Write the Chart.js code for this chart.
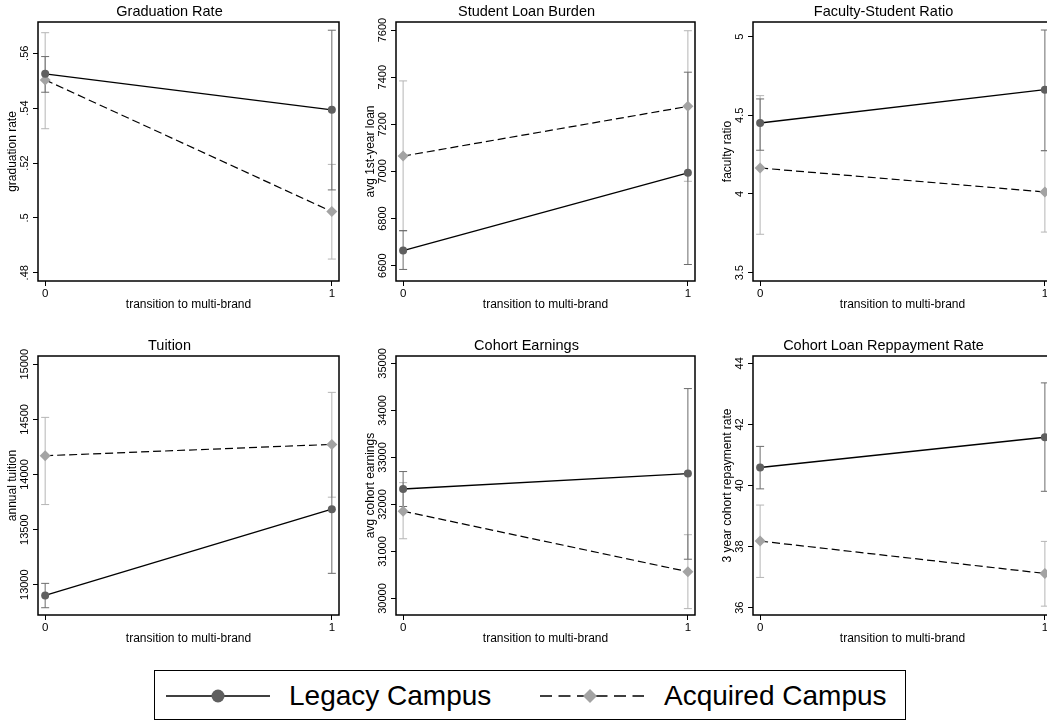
<!DOCTYPE html>
<html lang="en">
<head>
    <meta charset="UTF-8">
    <meta name="viewport" content="width=device-width, initial-scale=1.0">
    <title>Legacy vs Acquired Campus</title>
    <script src="https://cdn.jsdelivr.net/npm/chart.js"></script>
    <style>
        body {
            margin: 0;
            background: #fff;
            width: 1047px;
            height: 723px;
            overflow: hidden;
            position: relative;
            font-family: "Liberation Sans", Arial, sans-serif;
        }
        .panel { position: absolute; }
        #legend {
            position: absolute;
            left: 154px; top: 670px;
            width: 750px; height: 48px;
            border: 1.5px solid #000;
        }
        #legend svg, #legend span { position: absolute; }
        #legend span { font-size: 28px; line-height: 28px; top: 11px; color: #000; }
    </style>
</head>
<body>
    <div class="panel" style="left:0px;top:0px;width:345px;height:316px"><canvas id="c0"></canvas></div>
    <div class="panel" style="left:358px;top:0px;width:343px;height:316px"><canvas id="c1"></canvas></div>
    <div class="panel" style="left:715px;top:0px;width:343px;height:316px"><canvas id="c2"></canvas></div>
    <div class="panel" style="left:0px;top:334px;width:345px;height:316px"><canvas id="c3"></canvas></div>
    <div class="panel" style="left:358px;top:334px;width:343px;height:316px"><canvas id="c4"></canvas></div>
    <div class="panel" style="left:715px;top:334px;width:343px;height:316px"><canvas id="c5"></canvas></div>

    <!-- legend below the grid -->
    <div id="legend">
        <svg style="left:11px;top:18px" width="104" height="14">
            <line x1="0" y1="7" x2="104" y2="7" stroke="#000" stroke-width="1.5"/>
            <circle cx="52" cy="7" r="6.5" fill="#5f5f5f"/>
        </svg>
        <span id="legName0" style="left:134px"></span>
        <svg style="left:385px;top:17px" width="104" height="16">
            <line x1="0" y1="8" x2="104" y2="8" stroke="#000" stroke-width="1.5" stroke-dasharray="12,6.5"/>
            <polygon points="50,1 57,8 50,15 43,8" fill="#a3a3a3"/>
        </svg>
        <span id="legName1" style="left:509px"></span>
    </div>

    <script>
        // x axis: before / after the transition
        const xTicks = [0, 1];
        const xTitle = "transition to multi-brand";
        const seriesNames = ["Legacy Campus", "Acquired Campus"];

        const panelTitles = ["Graduation Rate", "Student Loan Burden", "Faculty-Student Ratio",
                             "Tuition", "Cohort Earnings", "Cohort Loan Reppayment Rate"];
        const yTitles = ["graduation rate", "avg 1st-year loan", "faculty ratio",
                         "annual tuition", "avg cohort earnings", "3 year cohort repayment rate"];

        // Graduation Rate
        const gradLegacy = [0.5525, 0.5394];
        const gradLegacyCI = [[0.5458, 0.5588], [0.5102, 0.5684]];
        const gradAcquired = [0.5503, 0.5023];
        const gradAcquiredCI = [[0.5325, 0.5675], [0.4850, 0.5195]];
        const gradTicks = [0.48, 0.50, 0.52, 0.54, 0.56];

        // Student Loan Burden
        const loanLegacy = [6664, 6994];
        const loanLegacyCI = [[6584, 6749], [6605, 7421]];
        const loanAcquired = [7065, 7276];
        const loanAcquiredCI = [[6747, 7384], [6958, 7597]];
        const loanTicks = [6600, 6800, 7000, 7200, 7400, 7600];

        // Faculty-Student Ratio
        const facLegacy = [4.451, 4.663];
        const facLegacyCI = [[4.278, 4.604], [4.275, 5.042]];
        const facAcquired = [4.165, 4.013];
        const facAcquiredCI = [[3.744, 4.625], [3.758, 4.275]];
        const facTicks = [3.5, 4, 4.5, 5];

        // Tuition
        const tuitLegacy = [12903, 13685];
        const tuitLegacyCI = [[12791, 13012], [13103, 14265]];
        const tuitAcquired = [14170, 14273];
        const tuitAcquiredCI = [[13727, 14518], [13794, 14745]];
        const tuitTicks = [13000, 13500, 14000, 14500, 15000];

        // Cohort Earnings
        const earnLegacy = [32329, 32657];
        const earnLegacyCI = [[31957, 32700], [30836, 34464]];
        const earnAcquired = [31857, 30571];
        const earnAcquiredCI = [[31271, 32464], [29786, 31357]];
        const earnTicks = [30000, 31000, 32000, 33000, 34000, 35000];

        // Cohort Loan Repayment Rate
        const repLegacy = [40.59, 41.58];
        const repLegacyCI = [[39.89, 41.28], [39.81, 43.36]];
        const repAcquired = [38.18, 37.12];
        const repAcquiredCI = [[36.99, 39.36], [36.05, 38.17]];
        const repTicks = [36, 38, 40, 42, 44];

        document.getElementById("legName0").textContent = seriesNames[0];
        document.getElementById("legName1").textContent = seriesNames[1];

        const FONT = '"Liberation Sans", Arial, sans-serif';
        const LEGACY_MARK = "#5f5f5f", LEGACY_CI = "#6c6c6c";
        const ACQ_MARK = "#a3a3a3", ACQ_CI = "#b5b5b5";

        // stata style labels: .5 instead of 0.5
        const fmt = v => String(v).replace(/^0\./, ".");

        const panels = [
            { title: panelTitles[0], yTitle: yTitles[0], leg: gradLegacy, legCI: gradLegacyCI, acq: gradAcquired, acqCI: gradAcquiredCI, ticks: gradTicks, min: 0.477, max: 0.5714 },
            { title: panelTitles[1], yTitle: yTitles[1], leg: loanLegacy, legCI: loanLegacyCI, acq: loanAcquired, acqCI: loanAcquiredCI, ticks: loanTicks, min: 6535, max: 7634 },
            { title: panelTitles[2], yTitle: yTitles[2], leg: facLegacy, legCI: facLegacyCI, acq: facAcquired, acqCI: facAcquiredCI, ticks: facTicks, min: 3.447, max: 5.093 },
            { title: panelTitles[3], yTitle: yTitles[3], leg: tuitLegacy, legCI: tuitLegacyCI, acq: tuitAcquired, acqCI: tuitAcquiredCI, ticks: tuitTicks, min: 12725, max: 15075 },
            { title: panelTitles[4], yTitle: yTitles[4], leg: earnLegacy, legCI: earnLegacyCI, acq: earnAcquired, acqCI: earnAcquiredCI, ticks: earnTicks, min: 29650, max: 35157 },
            { title: panelTitles[5], yTitle: yTitles[5], leg: repLegacy, legCI: repLegacyCI, acq: repAcquired, acqCI: repAcquiredCI, ticks: repTicks, min: 35.76, max: 44.24 }
        ];

        // box around the plot region
        const framePlugin = {
            id: "frame",
            afterDraw(chart) {
                const { ctx, chartArea: a } = chart;
                ctx.save();
                ctx.strokeStyle = "#000";
                ctx.lineWidth = 1.5;
                ctx.strokeRect(a.left, a.top, a.right - a.left, a.bottom - a.top);
                ctx.restore();
            }
        };

        // rotated y tick labels (read bottom to top)
        const yLabelPlugin = {
            id: "yLabels",
            afterDraw(chart) {
                const s = chart.scales.y;
                const ctx = chart.ctx;
                ctx.save();
                ctx.fillStyle = "#000";
                ctx.font = "11px " + FONT;
                ctx.textAlign = "center";
                ctx.textBaseline = "middle";
                s.ticks.forEach(t => {
                    ctx.save();
                    ctx.translate(chart.chartArea.left - 13, s.getPixelForValue(t.value));
                    ctx.rotate(-Math.PI / 2);
                    ctx.fillText(fmt(t.value), 0, 0);
                    ctx.restore();
                });
                ctx.restore();
            }
        };

        function points(vals) {
            return vals.map((v, i) => ({ x: xTicks[i], y: v }));
        }

        // vertical bars with caps, gap between the two x positions
        function ciPoints(ci) {
            const out = [];
            ci.forEach((pair, i) => {
                if (i > 0) out.push({ x: (xTicks[i - 1] + xTicks[i]) / 2, y: null });
                out.push({ x: xTicks[i], y: pair[0] }, { x: xTicks[i], y: pair[1] });
            });
            return out;
        }

        panels.forEach((p, idx) => {
            const ctx = document.getElementById("c" + idx).getContext("2d");
            new Chart(ctx, {
                type: "scatter",
                data: {
                    datasets: [
                        {
                            label: seriesNames[0],
                            data: points(p.leg),
                            showLine: true,
                            borderColor: "#000",
                            borderWidth: 1.3,
                            pointStyle: "circle",
                            pointRadius: 4,
                            pointBackgroundColor: LEGACY_MARK,
                            pointBorderWidth: 0,
                            order: 1
                        },
                        {
                            label: seriesNames[1],
                            data: points(p.acq),
                            showLine: true,
                            borderColor: "#000",
                            borderWidth: 1.2,
                            borderDash: [8, 4],
                            pointStyle: "rectRot",
                            pointRadius: 5.5,
                            pointBackgroundColor: ACQ_MARK,
                            pointBorderWidth: 0,
                            order: 2
                        },
                        {
                            label: seriesNames[0] + " CI",
                            data: ciPoints(p.legCI),
                            showLine: true,
                            spanGaps: false,
                            borderColor: LEGACY_CI,
                            borderWidth: 1,
                            pointStyle: "line",
                            pointRadius: 4,
                            pointBorderColor: LEGACY_CI,
                            pointBorderWidth: 1,
                            order: 3
                        },
                        {
                            label: seriesNames[1] + " CI",
                            data: ciPoints(p.acqCI),
                            showLine: true,
                            spanGaps: false,
                            borderColor: ACQ_CI,
                            borderWidth: 1,
                            pointStyle: "line",
                            pointRadius: 4,
                            pointBorderColor: ACQ_CI,
                            pointBorderWidth: 1,
                            order: 4
                        }
                    ]
                },
                options: {
                    responsive: true,
                    maintainAspectRatio: false,
                    animation: false,
                    events: [],
                    layout: { padding: { top: 0, right: 6, bottom: 0, left: 0 } },
                    plugins: {
                        legend: { display: false },
                        tooltip: { enabled: false },
                        title: {
                            display: true,
                            text: p.title,
                            color: "#000",
                            font: { family: FONT, size: 14.5, weight: "normal" },
                            padding: { top: 3.4, bottom: 1.2 }
                        }
                    },
                    scales: {
                        x: {
                            type: "linear",
                            min: -0.025,
                            max: 1.025,
                            afterBuildTicks: s => { s.ticks = xTicks.map(v => ({ value: v })); },
                            ticks: {
                                color: "#000",
                                font: { family: FONT, size: 11.5 },
                                padding: 1,
                                maxRotation: 0,
                                autoSkip: false,
                                callback: v => fmt(v)
                            },
                            grid: { drawOnChartArea: false, drawTicks: true, tickLength: 5, color: "#000", lineWidth: 1 },
                            border: { display: false },
                            title: {
                                display: true,
                                text: xTitle,
                                color: "#000",
                                font: { family: FONT, size: 12 },
                                padding: { top: 0, bottom: 4 }
                            },
                            afterFit: s => { s.height = 35; }
                        },
                        y: {
                            type: "linear",
                            min: p.min,
                            max: p.max,
                            afterBuildTicks: s => { s.ticks = p.ticks.map(v => ({ value: v })); },
                            ticks: { display: false },
                            grid: { drawOnChartArea: false, drawTicks: true, tickLength: 5, color: "#000", lineWidth: 1 },
                            border: { display: false },
                            title: {
                                display: true,
                                text: p.yTitle,
                                color: "#000",
                                font: { family: FONT, size: 12 },
                                padding: { top: 5, bottom: 0 }
                            },
                            afterFit: s => { s.width = 38; }
                        }
                    }
                },
                plugins: [framePlugin, yLabelPlugin]
            });
        });
    </script>
</body>
</html>
